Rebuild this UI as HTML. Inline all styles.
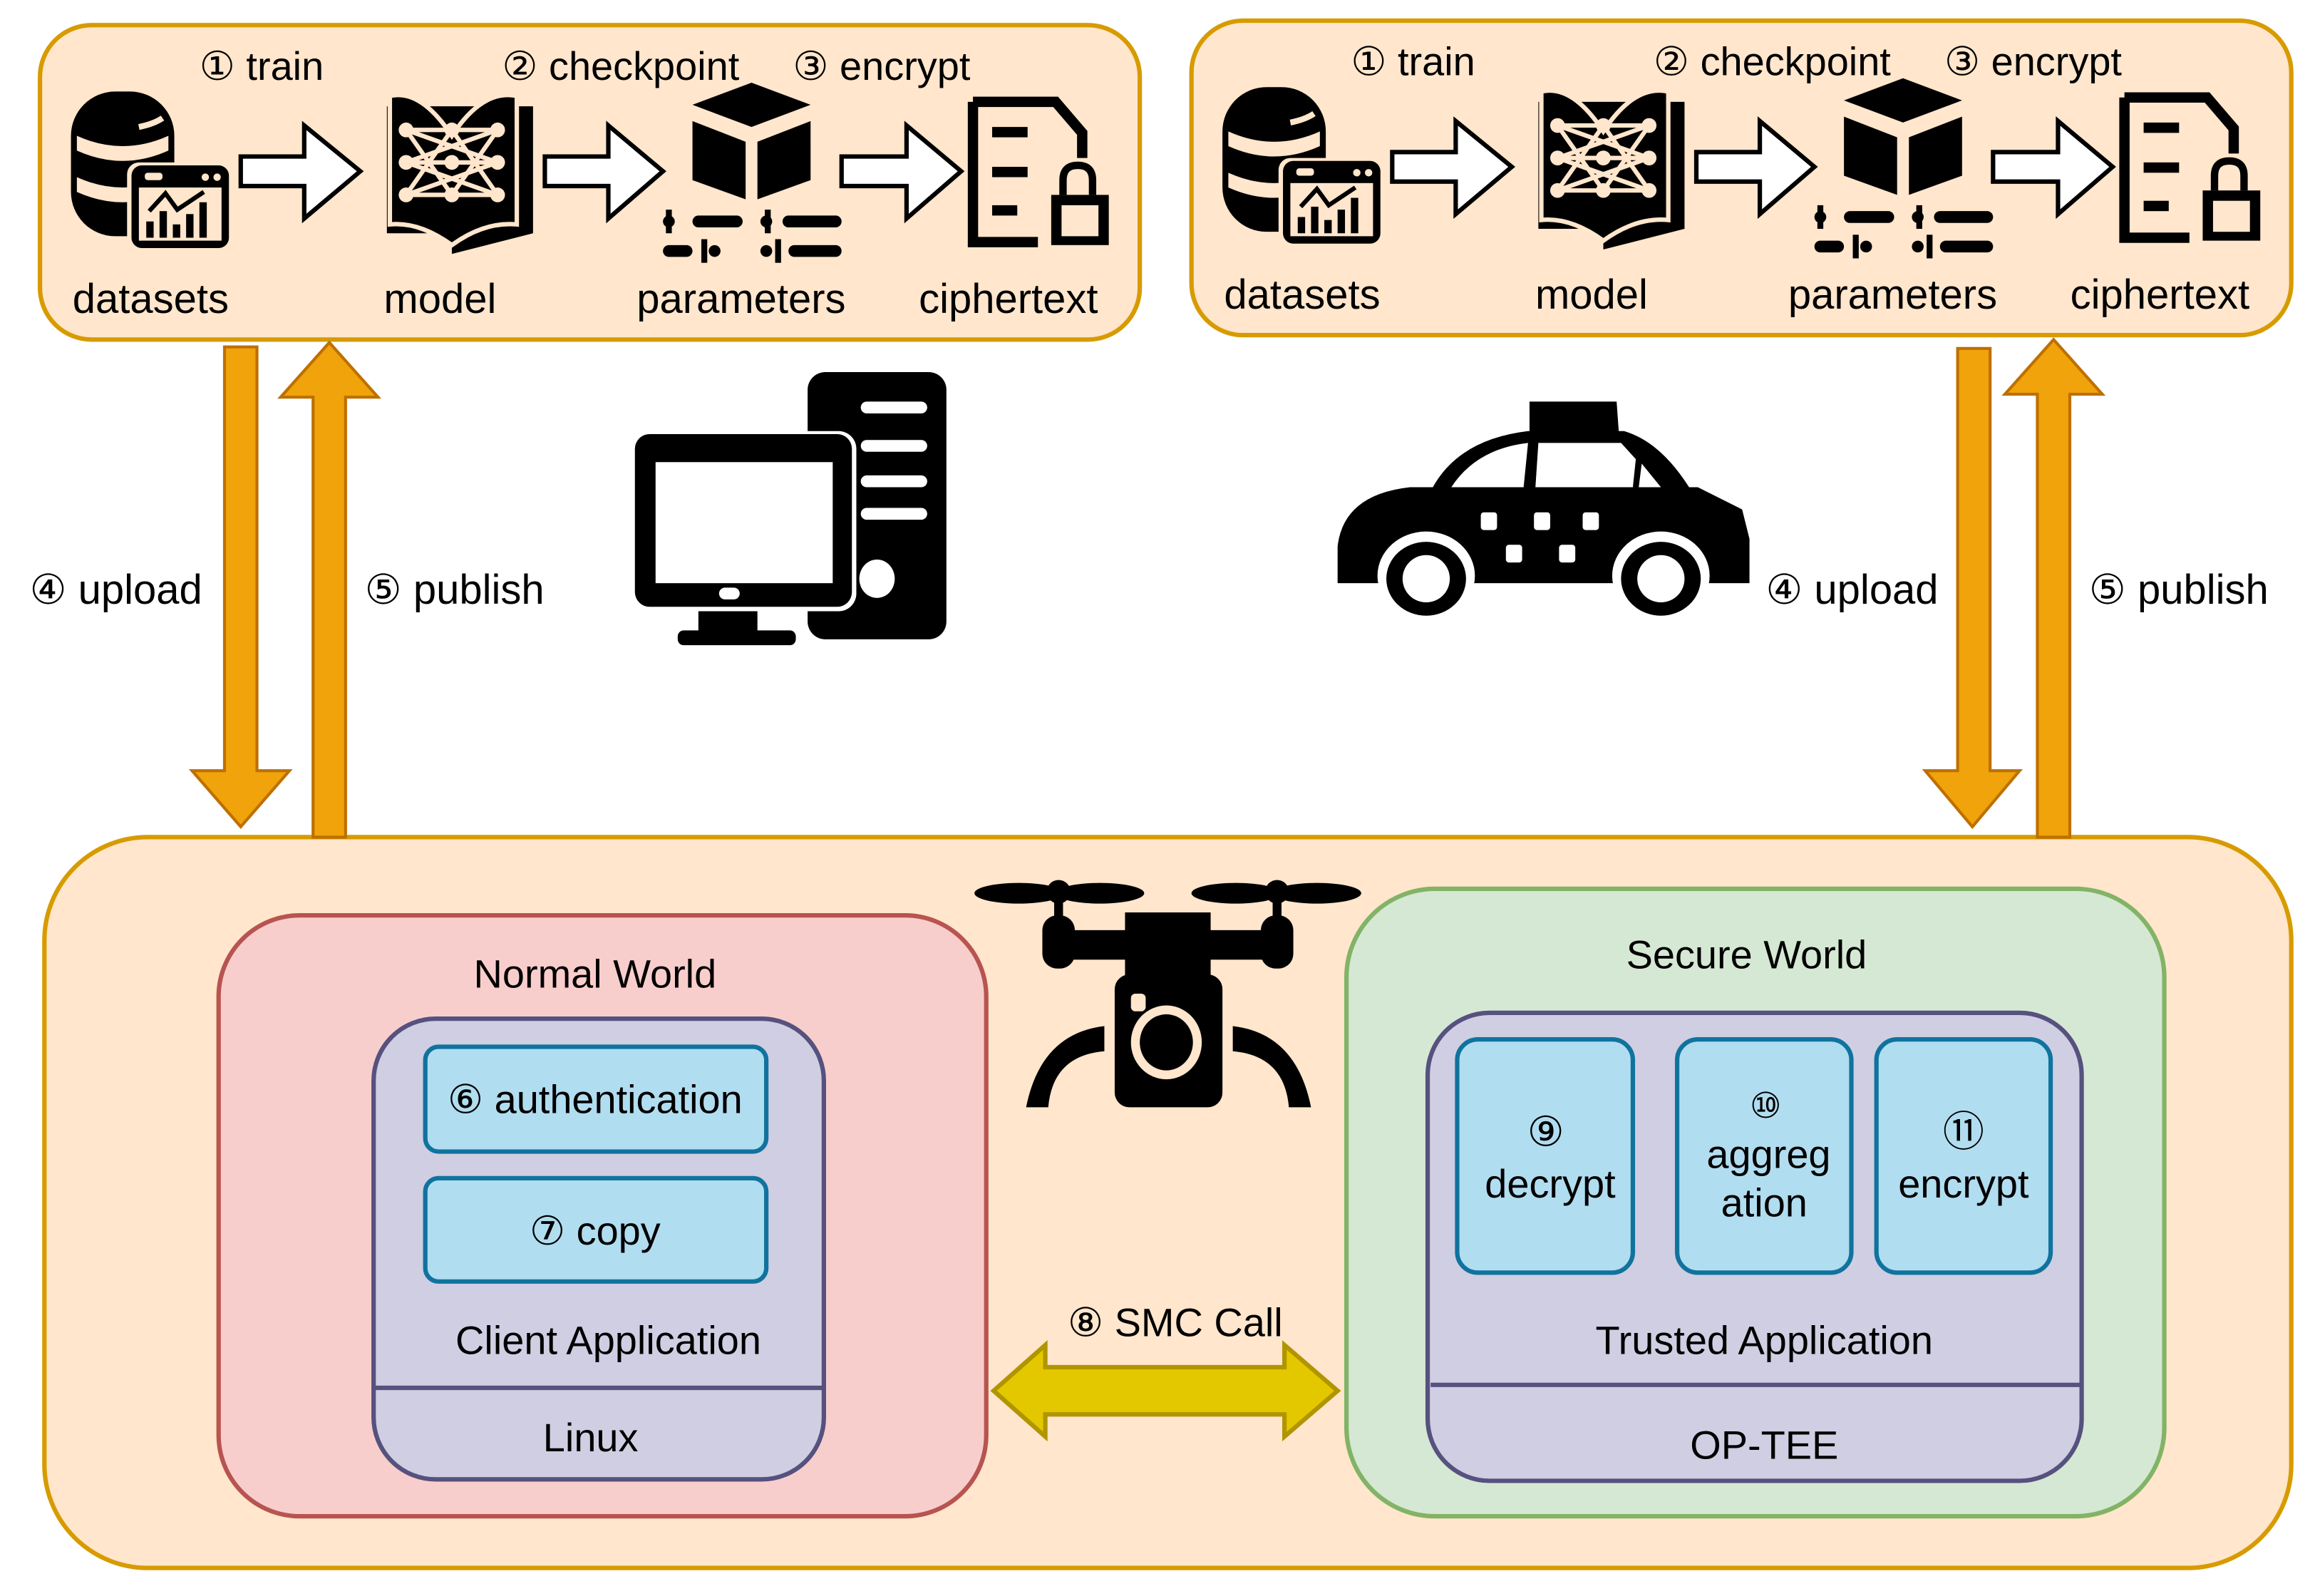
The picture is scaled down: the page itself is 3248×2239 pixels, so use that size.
<!DOCTYPE html>
<html><head><meta charset="utf-8"><style>
html,body{margin:0;padding:0;background:#fff;}
svg{display:block;}
text{font-family:"Liberation Sans","DejaVu Sans",sans-serif;fill:#000;}
</style></head><body>
<svg width="3248" height="2239" viewBox="0 0 1568 1081" xmlns="http://www.w3.org/2000/svg">
<defs>
<g id="pipe">
  <g>
    <rect x="48" y="62" width="70" height="98" rx="30" fill="#000"/>
    <path d="M52 92 Q83 106 114 92 L114 102 Q83 116 52 102Z" fill="#FFE6CC"/>
    <path d="M52 120 Q83 134 114 120 L114 130 Q83 144 52 130Z" fill="#FFE6CC"/>
    <path d="M94 86 Q104 84 110 80" stroke="#FFE6CC" stroke-width="4" fill="none"/>
    <rect x="86" y="110" width="72" height="60" rx="8" fill="#FFE6CC"/>
    <rect x="89" y="112" width="66" height="56" rx="7" fill="#000"/>
    <rect x="94" y="127" width="56" height="36" fill="#FFE6CC"/>
    <rect x="98" y="117" width="12" height="5" rx="2" fill="#FFE6CC"/>
    <circle cx="139" cy="120" r="2.5" fill="#FFE6CC"/><circle cx="147" cy="120" r="2.5" fill="#FFE6CC"/>
    <rect x="99" y="150" width="5" height="11" fill="#000"/><rect x="108" y="143" width="5" height="18" fill="#000"/>
    <rect x="117" y="152" width="5" height="9" fill="#000"/><rect x="126" y="145" width="5" height="16" fill="#000"/>
    <rect x="135" y="137" width="5" height="24" fill="#000"/>
    <path d="M101 143 L112 131 L120 142 L138 130" stroke="#000" stroke-width="3" fill="none"/>
  </g>
  <path d="M163 106 L206 106 L206 85 L244 116 L206 148 L206 126 L163 126Z" fill="#fff" stroke="#000" stroke-width="3"/>
  <path d="M369 106 L412 106 L412 85 L449 116 L412 148 L412 126 L369 126Z" fill="#fff" stroke="#000" stroke-width="3"/>
  <path d="M570 106 L614 106 L614 85 L651 116 L614 148 L614 126 L570 126Z" fill="#fff" stroke="#000" stroke-width="3"/>
  <path d="M254 72 L262 72 L262 158 L306 158 L306 172 L361 158 L361 72 L354 72 Z" fill="#000"/>
  <path d="M264 65 Q285 60 306 92 Q327 60 350 65 L350 152 Q328 150 306 166 Q284 150 264 152Z" fill="#000" stroke="#FFE6CC" stroke-width="3"/>
  <g stroke="#FFE6CC" stroke-width="3" fill="none">
    <path d="M275 88 L337 110 M275 110 L337 88 M275 110 L337 132 M275 132 L337 110 M275 88 L306 132 M306 88 L337 132 M337 88 L306 132 M306 88 L275 132 M275 88 L337 88 M275 110 L337 110 M275 132 L337 132"/>
  </g>
  <g fill="#FFE6CC">
    <circle cx="275" cy="88" r="5"/><circle cx="306" cy="88" r="5"/><circle cx="337" cy="88" r="5"/>
    <circle cx="275" cy="110" r="5"/><circle cx="306" cy="110" r="5"/><circle cx="337" cy="110" r="5"/>
    <circle cx="275" cy="132" r="5"/><circle cx="306" cy="132" r="5"/><circle cx="337" cy="132" r="5"/>
  </g>
  <path d="M509 56 L549 71 L509 86 L469 71Z" fill="#000"/>
  <path d="M469 82 L505 96 L505 135 L469 122Z" fill="#000"/>
  <path d="M513 96 L549 82 L549 122 L513 135Z" fill="#000"/>
  <g fill="#000">
    <rect x="449" y="146" width="8" height="8" rx="4"/><rect x="469" y="146" width="34" height="8" rx="4"/><rect x="515" y="146" width="8" height="8" rx="4"/><rect x="530" y="146" width="40" height="8" rx="4"/>
    <rect x="451" y="142" width="4" height="16"/><rect x="518" y="142" width="4" height="16"/>
    <rect x="449" y="166" width="20" height="8" rx="4"/><rect x="480" y="166" width="8" height="8" rx="4"/><rect x="515" y="166" width="8" height="8" rx="4"/><rect x="534" y="166" width="36" height="8" rx="4"/>
    <rect x="475" y="162" width="4" height="16"/><rect x="525" y="162" width="4" height="16"/>
  </g>
  <path d="M659 69 L715 69 L733 90 L733 107" stroke="#000" stroke-width="7" fill="none"/>
  <path d="M659 69 L659 164 L703 164" stroke="#000" stroke-width="7" fill="none"/>
  <rect x="672" y="86" width="24" height="7" fill="#000"/><rect x="672" y="113" width="24" height="7" fill="#000"/><rect x="672" y="139" width="17" height="7" fill="#000"/>
  <path d="M720 132 L720 122 Q720 112 730 112 Q740 112 740 122 L740 132" stroke="#000" stroke-width="5" fill="none"/>
  <rect x="712" y="132" width="39" height="34" fill="#000"/><rect x="719" y="139" width="25" height="21" fill="#FFE6CC"/>
  <text x="135" y="54" font-size="27">① train</text>
  <text x="340" y="54" font-size="27">② checkpoint</text>
  <text x="537" y="54" font-size="27">③ encrypt</text>
  <text x="102" y="212" font-size="28" text-anchor="middle">datasets</text>
  <text x="298" y="212" font-size="28" text-anchor="middle">model</text>
  <text x="502" y="212" font-size="28" text-anchor="middle">parameters</text>
  <text x="683" y="212" font-size="28" text-anchor="middle">ciphertext</text>
</g>
</defs>

<rect x="27" y="17" width="745" height="213" rx="35" fill="#FFE6CC" stroke="#D79B00" stroke-width="3"/>
<use href="#pipe"/>
<rect x="807" y="14" width="745" height="213" rx="35" fill="#FFE6CC" stroke="#D79B00" stroke-width="3"/>
<use href="#pipe" transform="translate(780,-3)"/>

<rect x="30" y="567" width="1522" height="495" rx="70" fill="#FFE6CC" stroke="#D79B00" stroke-width="3"/>

<g fill="#F0A30A" stroke="#BD7000" stroke-width="2">
  <path d="M152 235 L174 235 L174 522 L196 522 L163 560 L130 522 L152 522Z"/>
  <path d="M212 567 L212 269 L190 269 L223 232 L256 269 L234 269 L234 567Z"/>
  <path d="M1326 236 L1348 236 L1348 522 L1368 522 L1336 560 L1304 522 L1326 522Z"/>
  <path d="M1380 567 L1380 267 L1358 267 L1391 230 L1424 267 L1402 267 L1402 567Z"/>
</g>
<text x="20" y="409" font-size="28">④ upload</text>
<text x="247" y="409" font-size="28">⑤ publish</text>
<text x="1196" y="409" font-size="28">④ upload</text>
<text x="1415" y="409" font-size="28">⑤ publish</text>

<g fill="#000">
  <rect x="547" y="252" width="94" height="181" rx="12"/>
  <rect x="427" y="292" width="153" height="122" rx="12" fill="#fff"/>
  <rect x="430" y="294" width="147" height="117" rx="10"/>
  <rect x="444" y="313" width="120" height="82" fill="#fff"/>
  <rect x="487" y="398" width="14" height="8" rx="4" fill="#fff"/>
  <rect x="473" y="414" width="40" height="16"/>
  <rect x="459" y="427" width="80" height="10" rx="4"/>
  <g fill="#fff">
    <rect x="583" y="272" width="45" height="8" rx="4"/><rect x="583" y="298" width="45" height="8" rx="4"/>
    <rect x="583" y="322" width="45" height="8" rx="4"/><rect x="583" y="344" width="45" height="8" rx="4"/>
    <ellipse cx="594" cy="392" rx="12" ry="13"/>
  </g>
</g>

<!-- taxi -->
<g fill="#000">
  <path d="M1036 272 L1095 272 L1097 300 L1036 300Z"/>
  <path d="M968 335 Q985 298 1035 292 L1100 292 Q1128 300 1150 340Z"/>
  <path d="M906 395 L906 370 Q910 335 955 330 L1150 330 L1180 345 L1185 365 L1185 395Z"/>
  <path d="M983 330 Q1000 304 1035 300 L1032 330Z" fill="#fff"/>
  <path d="M1042 300 L1098 300 L1108 311 L1106 330 L1040 330Z" fill="#fff"/>
  <path d="M1112 314 L1125 330 L1110 330Z" fill="#fff"/>
  <g fill="#fff">
    <rect x="1003" y="347" width="11" height="12" rx="2"/><rect x="1039" y="347" width="11" height="12" rx="2"/><rect x="1072" y="347" width="11" height="12" rx="2"/>
    <rect x="1020" y="369" width="11" height="12" rx="2"/><rect x="1056" y="369" width="11" height="12" rx="2"/>
    <ellipse cx="966" cy="390" rx="33" ry="30"/><ellipse cx="1125" cy="390" rx="33" ry="30"/>
  </g>
  <ellipse cx="966" cy="392" rx="27" ry="25"/><ellipse cx="1125" cy="392" rx="27" ry="25"/>
  <ellipse cx="966" cy="392" rx="16" ry="16" fill="#fff"/><ellipse cx="1125" cy="392" rx="16" ry="16" fill="#fff"/>
</g>

<g fill="#000">
  <ellipse cx="690" cy="605" rx="30" ry="7"/><ellipse cx="745" cy="605" rx="30" ry="7"/>
  <ellipse cx="837" cy="605" rx="30" ry="7"/><ellipse cx="892" cy="605" rx="30" ry="7"/>
  <circle cx="717" cy="604" r="8"/><circle cx="865" cy="604" r="8"/>
  <rect x="714" y="604" width="6" height="22"/><rect x="862" y="604" width="6" height="22"/>
  <rect x="706" y="620" width="22" height="36" rx="10"/><rect x="854" y="620" width="22" height="36" rx="10"/>
  <rect x="715" y="630" width="150" height="20"/>
  <rect x="762" y="618" width="58" height="50"/>
  <rect x="755" y="660" width="73" height="90" rx="10"/>
  <ellipse cx="790" cy="706" rx="24" ry="25" fill="#FFE6CC"/><ellipse cx="790" cy="706" rx="18" ry="19"/>
  <rect x="766" y="673" width="10" height="12" rx="3" fill="#FFE6CC"/>
  <path d="M748 695 Q705 700 695 750 L710 750 Q713 715 748 712Z"/>
  <path d="M835 695 Q878 700 888 750 L873 750 Q870 715 835 712Z"/>
</g>

<rect x="148" y="620" width="520" height="407" rx="55" fill="#F8CECC" stroke="#B85450" stroke-width="3"/>
<text x="403" y="669" font-size="27" text-anchor="middle">Normal World</text>
<rect x="253" y="690" width="305" height="312" rx="42" fill="#D0CEE2" stroke="#56517E" stroke-width="3"/>
<line x1="253" y1="940" x2="558" y2="940" stroke="#56517E" stroke-width="3"/>
<rect x="288" y="709" width="231" height="71" rx="9" fill="#B1DDF0" stroke="#10739E" stroke-width="3"/>
<rect x="288" y="798" width="231" height="70" rx="9" fill="#B1DDF0" stroke="#10739E" stroke-width="3"/>
<text x="403" y="754" font-size="27" text-anchor="middle">⑥ authentication</text>
<text x="403" y="843" font-size="27" text-anchor="middle">⑦ copy</text>
<text x="412" y="917" font-size="27" text-anchor="middle">Client Application</text>
<text x="400" y="983" font-size="27" text-anchor="middle">Linux</text>

<rect x="912" y="602" width="554" height="425" rx="60" fill="#D5E8D4" stroke="#82B366" stroke-width="3"/>
<text x="1183" y="656" font-size="27" text-anchor="middle">Secure World</text>
<rect x="967" y="686" width="443" height="317" rx="42" fill="#D0CEE2" stroke="#56517E" stroke-width="3"/>
<line x1="969" y1="938" x2="1410" y2="938" stroke="#56517E" stroke-width="3"/>
<rect x="987" y="704" width="119" height="158" rx="14" fill="#B1DDF0" stroke="#10739E" stroke-width="3"/>
<rect x="1136" y="704" width="118" height="158" rx="14" fill="#B1DDF0" stroke="#10739E" stroke-width="3"/>
<rect x="1271" y="704" width="118" height="158" rx="14" fill="#B1DDF0" stroke="#10739E" stroke-width="3"/>
<text x="1047" y="776" font-size="28" text-anchor="middle">⑨</text>
<text x="1050" y="811" font-size="27" text-anchor="middle">decrypt</text>
<text x="1196" y="757" font-size="24" text-anchor="middle">⑩</text>
<text x="1198" y="791" font-size="27" text-anchor="middle">aggreg</text>
<text x="1195" y="824" font-size="27" text-anchor="middle">ation</text>
<text x="1330" y="776" font-size="28" text-anchor="middle">⑪</text>
<text x="1330" y="811" font-size="27" text-anchor="middle">encrypt</text>
<text x="1195" y="917" font-size="27" text-anchor="middle">Trusted Application</text>
<text x="1195" y="988" font-size="27" text-anchor="middle">OP-TEE</text>

<path d="M673 942 L708 911 L708 926 L870 926 L870 911 L906 942 L870 973 L870 958 L708 958 L708 973Z" fill="#E3C800" stroke="#B09500" stroke-width="3"/>
<text x="796" y="905" font-size="27" text-anchor="middle">⑧ SMC Call</text>
</svg>
</body></html>
